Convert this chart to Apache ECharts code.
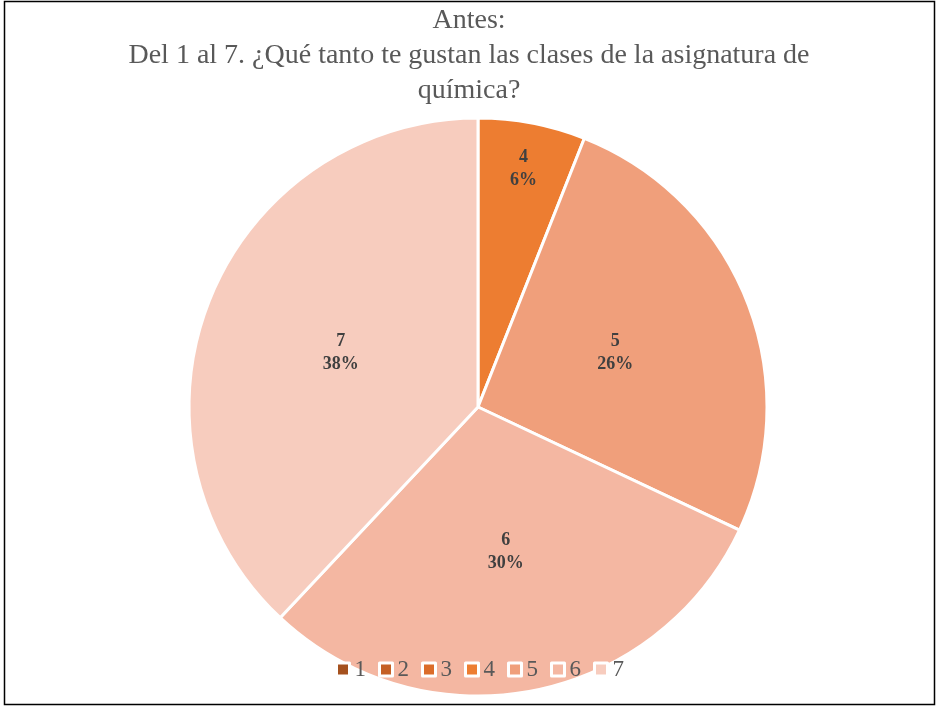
<!DOCTYPE html>
<html><head><meta charset="utf-8">
<script src="https://cdn.jsdelivr.net/npm/echarts@6/dist/echarts.min.js"></script>
<style>html,body{margin:0;padding:0;background:#fff}#c{width:938px;height:706px}</style>
</head><body><div id="c"></div>
<script>
var categories = ['1','2','3','4','5','6','7'];
var counts = [0, 0, 0, 3, 13, 15, 19];
var colors = ['#A5511E','#C55F24','#DB6C2A','#ED7D31','#F09F7B','#F4B7A2','#F7CCBE'];
var titleText = 'Antes:\nDel 1 al 7. ¿Qué tanto te gustan las clases de la asignatura de\nquímica?';

var CX = 478, CY = 407, R = 289;
var total = counts.reduce(function(a,b){return a+b;},0);
var starts = []; var acc = 0;
counts.forEach(function(v){ starts.push(acc); acc += v; });

var chart = echarts.init(document.getElementById('c'), null, {renderer:'canvas'});
chart.setOption({
  backgroundColor: '#fff',
  animation: false,
  title: {
    text: titleText, left: 'center', top: 3, padding: 0,
    textStyle: {fontFamily: 'Liberation Serif', fontSize: 28, fontWeight: 'normal', color: '#595959', lineHeight: 35}
  },
  legend: {
    top: 658, left: 335, icon: 'rect', itemWidth: 13, itemHeight: 13, itemGap: 12, padding: 0,
    itemStyle: {borderColor: '#fff', borderWidth: 3},
    textStyle: {fontFamily: 'Liberation Serif', fontSize: 23, color: '#595959'},
    data: categories
  },
  graphic: [{
    type: 'rect', shape: {x: 4.5, y: 1.5, width: 930, height: 703},
    style: {fill: 'none', stroke: '#000', lineWidth: 1.5}, silent: true, z: 100
  }],
  series: [{
    type: 'pie', center: [CX, CY], radius: [0, R], startAngle: 90, clockwise: true,
    color: colors, avoidLabelOverlap: false, stillShowZeroSum: true,
    itemStyle: {borderColor: '#fff', borderWidth: 3},
    label: {
      show: true, position: 'inside', fontFamily: 'Liberation Serif', fontSize: 18, fontWeight: 'bold',
      color: '#404040', lineHeight: 23,
      formatter: function(p){ return p.value ? p.name + '\n' + Math.round(p.percent) + '%' : ''; }
    },
    labelLine: {show: false},
    labelLayout: function(p){
      var i = p.dataIndex; var v = counts[i];
      if (!v || v / total >= 0.1) return {};
      var mid = (starts[i] + v / 2) / total * 2 * Math.PI;
      var tx = CX + 0.84 * R * Math.sin(mid), ty = CY - 0.84 * R * Math.cos(mid);
      var cx = p.labelRect.x + p.labelRect.width / 2, cy = p.labelRect.y + p.labelRect.height / 2;
      return {dx: tx - cx, dy: ty - cy};
    },
    emphasis: {disabled: true},
    data: categories.map(function(c, i){ return {name: c, value: counts[i]}; })
  }]
});
</script></body></html>
